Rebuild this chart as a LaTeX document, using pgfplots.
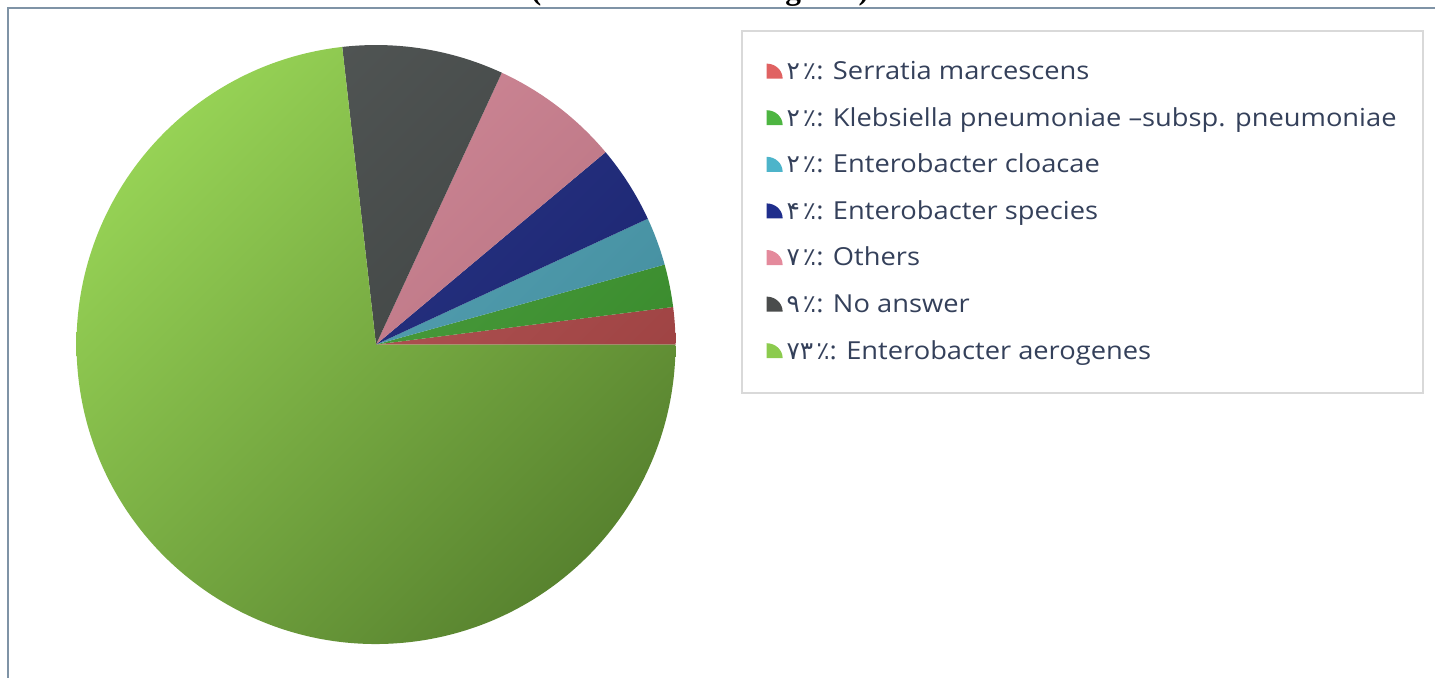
\documentclass[border=0pt]{standalone}
\usepackage{pgfplots}
\pgfplotsset{compat=1.18}
\usepackage{pgfplotstable}
\usepackage{fontspec}
\setmainfont{Open Sans}
\newfontfamily\legfont[FakeStretch=1.1, Ligatures=TeX]{Open Sans}
\newfontfamily\arabicfont[Script=Arabic]{DejaVu Sans}
\newfontfamily\titlefont{Liberation Serif}

\definecolor{legtext}{HTML}{34405A}
\definecolor{framecol}{HTML}{7F93A6}
\definecolor{legframe}{HTML}{D9D9D9}
% slice colours (as seen in the pie)
\definecolor{sred}{HTML}{B54A4A}
\definecolor{sgreen}{HTML}{3F9E30}
\definecolor{scyan}{HTML}{4AA1B5}
\definecolor{snavy}{HTML}{1C2880}
\definecolor{spink}{HTML}{CF7E8F}
\definecolor{sgray}{HTML}{434847}
\colorlet{redL}{sred!88!white}     \colorlet{redD}{sred!85!black}
\colorlet{greenL}{sgreen!88!white} \colorlet{greenD}{sgreen!85!black}
\colorlet{cyanL}{scyan!88!white}   \colorlet{cyanD}{scyan!85!black}
\colorlet{navyL}{snavy!92!white}   \colorlet{navyD}{snavy!85!black}
\colorlet{pinkL}{spink!88!white}   \colorlet{pinkD}{spink!85!black}
\colorlet{grayL}{sgray!92!white}   \colorlet{grayD}{sgray!85!black}
\definecolor{limeL}{HTML}{96D255}
\definecolor{limeD}{HTML}{58832F}
% legend colours
\definecolor{lred}{HTML}{E06262}
\definecolor{lgreen}{HTML}{4DB541}
\definecolor{lcyan}{HTML}{4DB4CA}
\definecolor{lnavy}{HTML}{1F2E8C}
\definecolor{lpink}{HTML}{E48A9C}
\definecolor{lgray}{HTML}{4A4C4C}
\definecolor{llime}{HTML}{8CCB4E}

% shares in percent, counter-clockwise from 3 o'clock
\pgfplotstableread{
share light dark
2.0  redL   redD
2.3  greenL greenD
2.6  cyanL  cyanD
4.2  navyL  navyD
7.0  pinkL  pinkD
8.7  grayL  grayD
73.2 limeL  limeD
}\piedata

\def\R{149.75pt}
\newcommand\pct[1]{{\arabicfont #1\hspace{1.5pt}٪}}

\begin{document}
\begin{tikzpicture}
\useasboundingbox (0,0) rectangle (717.5pt,-338.5pt);
\node[anchor=base, inner sep=0pt, font=\titlefont\bfseries\fontsize{15.7}{18}\selectfont]
  at (350pt,0.5pt) {(Enterobacter aerogenes)};
\draw[framecol, line width=0.7pt] (4pt,-345pt) -- (4pt,-4pt) -- (725pt,-4pt);
\draw[legframe, line width=0.8pt] (371pt,-15.5pt) rectangle (711.5pt,-196.5pt);

\begin{axis}[
  hide axis,
  scale only axis,
  width=299.5pt, height=299.5pt,
  xmin=-1, xmax=1, ymin=-1, ymax=1,
  clip=false,
  at={(188pt,-172.25pt)}, anchor=center,
  legend style={draw=none, fill=none, inner sep=0pt,
    at={(1.1515,0.9833)}, anchor=north west,
    font=\legfont\fontsize{12.4}{15}\selectfont, text=legtext,
    nodes={text height=10pt, text depth=3pt},
    row sep=6.3pt},
  legend cell align=left,
  legend image code/.code={\path[draw=none, fill] (0pt,-3.1pt) -- (0pt,4.4pt)
    arc[start angle=90, end angle=0, x radius=8pt, y radius=7.5pt] -- cycle;},
]
\pgfplotstablegetrowsof{\piedata}
\pgfmathtruncatemacro\nrows{\pgfplotsretval-1}
\def\a{0}
\pgfplotsforeachungrouped \i in {0,...,\nrows}{
  \pgfplotstablegetelem{\i}{share}\of\piedata \let\v\pgfplotsretval
  \pgfplotstablegetelem{\i}{light}\of\piedata \let\cl\pgfplotsretval
  \pgfplotstablegetelem{\i}{dark}\of\piedata \let\cd\pgfplotsretval
  \pgfmathsetmacro\b{\a+3.6*\v}
  \edef\temp{
    \noexpand\begin{scope}
    \noexpand\clip (axis cs:0,0) -- ++(\a:\R) arc[start angle=\a, end angle=\b, radius=\R] -- cycle;
    \noexpand\shade[top color=\cl, bottom color=\cd, shading angle=45] (axis cs:-1,-1) rectangle (axis cs:1,1);
    \noexpand\end{scope}
  }
  \temp
  \let\a\b
}
\addlegendimage{fill=lred}
\addlegendentry{\pct{۲}: Serratia marcescens}
\addlegendimage{fill=lgreen}
\addlegendentry{\pct{۲}: Klebsiella pneumoniae –subsp. pneumoniae}
\addlegendimage{fill=lcyan}
\addlegendentry{\pct{۲}: Enterobacter cloacae}
\addlegendimage{fill=lnavy}
\addlegendentry{\pct{۴}: Enterobacter species}
\addlegendimage{fill=lpink}
\addlegendentry{\pct{۷}: Others}
\addlegendimage{fill=lgray}
\addlegendentry{\pct{۹}: No answer}
\addlegendimage{fill=llime}
\addlegendentry{\pct{۷۳}: Enterobacter aerogenes}
\end{axis}
\end{tikzpicture}
\end{document}
